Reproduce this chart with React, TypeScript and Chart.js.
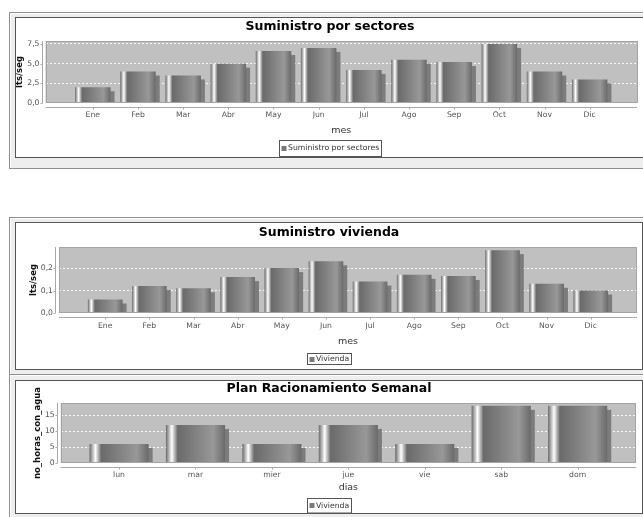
import { useEffect, useRef } from 'react';
import { Chart, registerables } from 'chart.js';

Chart.register(...registerables);

const FONT = "'DejaVu Sans', 'Liberation Sans', sans-serif";

// ---------- data ----------
const monthLabels = ['Ene', 'Feb', 'Mar', 'Abr', 'May', 'Jun', 'Jul', 'Ago', 'Sep', 'Oct', 'Nov', 'Dic'];
const sectoresValues = [2.0, 4.0, 3.5, 5.0, 6.6, 7.0, 4.2, 5.5, 5.2, 7.5, 4.0, 3.0];
const viviendaValues = [0.06, 0.12, 0.11, 0.16, 0.2, 0.23, 0.14, 0.17, 0.165, 0.28, 0.13, 0.1];
const dayLabels = ['lun', 'mar', 'mier', 'jue', 'vie', 'sab', 'dom'];
const horasValues = [6, 12, 6, 12, 6, 18, 18];

const sectoresTicks = [0, 2.5, 5, 7.5];
const sectoresTickLabels = ['0,0', '2,5', '5,0', '7,5'];
const viviendaTicks = [0, 0.1, 0.2];
const viviendaTickLabels = ['0,0', '0,1', '0,2'];
const horasTicks = [0, 5, 10, 15];
const horasTickLabels = ['0', '5', '10', '15'];

// ---------- styles ----------
const BAR_DARK = '#6a6a6a';
const BAR_LIGHT = '#989898';
const SHADOW = '#7c7c7c';
const PLOT_BG = '#c0c0c0';

type PanelSpec = {
  title: string;
  yTitle: string;
  xTitle: string;
  legendLabel: string;
  categories: string[];
  values: number[];
  yTicks: number[];
  yTickLabels: string[];
  canvasW: number;
  canvasH: number;
  yWidth: number;
  rightWidth: number;
  xHeight: number;
  titlePadTop: number;
  titlePadBottom: number;
  xTickPad: number;
  xTitlePadBottom: number;
  yTitlePad: number;
  legendTop: number;
  legendH: number;
};

const panel1: PanelSpec = {
  title: 'Suministro por sectores',
  yTitle: 'lts/seg',
  xTitle: 'mes',
  legendLabel: 'Suministro por sectores',
  categories: monthLabels,
  values: sectoresValues,
  yTicks: sectoresTicks,
  yTickLabels: sectoresTickLabels,
  canvasW: 628,
  canvasH: 139,
  yWidth: 29.5,
  rightWidth: 7,
  xHeight: 54,
  titlePadTop: 1.5,
  titlePadBottom: 6.5,
  xTickPad: 7.6,
  xTitlePadBottom: 20.3,
  yTitlePad: 0,
  legendTop: 122,
  legendH: 16,
};

const panel2: PanelSpec = {
  title: 'Suministro vivienda',
  yTitle: 'lts/seg',
  xTitle: 'mes',
  legendLabel: 'Vivienda',
  categories: monthLabels,
  values: viviendaValues,
  yTicks: viviendaTicks,
  yTickLabels: viviendaTickLabels,
  canvasW: 626,
  canvasH: 146,
  yWidth: 43,
  rightWidth: 5,
  xHeight: 56,
  titlePadTop: 2.5,
  titlePadBottom: 6.5,
  xTickPad: 8.4,
  xTitlePadBottom: 21.3,
  yTitlePad: 13.25,
  legendTop: 130,
  legendH: 11,
};

const panel3: PanelSpec = {
  title: 'Plan Racionamiento Semanal',
  yTitle: 'no_horas_con_agua',
  xTitle: 'dias',
  legendLabel: 'Vivienda',
  categories: dayLabels,
  values: horasValues,
  yTicks: horasTicks,
  yTickLabels: horasTickLabels,
  canvasW: 626,
  canvasH: 132,
  yWidth: 44.7,
  rightWidth: 6,
  xHeight: 50,
  titlePadTop: 0,
  titlePadBottom: 7,
  xTickPad: 7.2,
  xTitlePadBottom: 19.3,
  yTitlePad: 17.25,
  legendTop: 117,
  legendH: 14.5,
};

// JFreeChart-like category layout (5% margins, 20% item gap)
function categoryGeometry(n: number) {
  const catW = (0.9 * 0.8) / n;
  const gap = (0.9 * 0.2) / (n - 1);
  const spacing = catW + gap;
  return { barFrac: catW / spacing, offset: (0.05 + catW / 2) / spacing };
}

function makePlugin(spec: PanelSpec) {
  return {
    id: 'jfreeLook',
    beforeDraw(chart: any) {
      const { ctx, chartArea: a } = chart;
      ctx.save();
      ctx.fillStyle = PLOT_BG;
      ctx.fillRect(a.left, a.top, a.right - a.left, a.bottom - a.top);
      ctx.restore();
    },
    beforeDatasetsDraw(chart: any) {
      const { ctx, chartArea: a } = chart;
      const meta = chart.getDatasetMeta(0);
      ctx.save();
      ctx.beginPath();
      ctx.rect(a.left, a.top, a.right - a.left, a.bottom - a.top);
      ctx.clip();
      ctx.fillStyle = SHADOW;
      meta.data.forEach((el: any) => {
        const { x, y, base, width } = el.getProps(['x', 'y', 'base', 'width'], true);
        ctx.fillRect(x - width / 2 + 4, y + 4, width, base - y - 4);
      });
      ctx.restore();
    },
    afterDatasetsDraw(chart: any) {
      const { ctx, chartArea: a } = chart;
      ctx.save();
      ctx.strokeStyle = '#a4a4a4';
      ctx.lineWidth = 1;
      ctx.strokeRect(
        Math.round(a.left) + 0.5,
        Math.round(a.top) + 0.5,
        Math.round(a.right - a.left) - 1,
        Math.round(a.bottom - a.top) - 1
      );
      ctx.restore();
    },
    afterDraw(chart: any) {
      const { ctx, chartArea: a } = chart;
      const xs = chart.scales.x;
      const ys = chart.scales.y;
      ctx.save();
      ctx.strokeStyle = '#a8a8a8';
      ctx.lineWidth = 1;
      // x axis line + ticks
      const axY = Math.round(a.bottom) + 4.5;
      ctx.beginPath();
      ctx.moveTo(a.left, axY);
      ctx.lineTo(a.right, axY);
      spec.categories.forEach((_, i) => {
        const px = Math.round(xs.getPixelForValue(i)) + 0.5;
        ctx.moveTo(px, axY);
        ctx.lineTo(px, axY + 2);
      });
      // y axis line + ticks
      const axX = Math.round(a.left) - 3.5;
      ctx.moveTo(axX, a.top);
      ctx.lineTo(axX, a.bottom);
      spec.yTicks.forEach((v) => {
        const py = Math.round(ys.getPixelForValue(v)) + 0.5;
        ctx.moveTo(axX, py);
        ctx.lineTo(axX - 2, py);
      });
      ctx.stroke();

      // legend with frame
      const label = chart.data.datasets[0].label as string;
      ctx.font = `7.7px ${FONT}`;
      const tw = ctx.measureText(label).width;
      const sw = 5;
      const boxW = Math.round(2 + sw + 1.5 + tw + 2.5);
      const left = Math.round(chart.width / 2 - boxW / 2) + 0.5;
      const top = spec.legendTop + 0.5;
      ctx.fillStyle = '#ffffff';
      ctx.fillRect(left, top, boxW, spec.legendH);
      ctx.strokeStyle = '#555555';
      ctx.strokeRect(left, top, boxW, spec.legendH);
      const cy = top + spec.legendH / 2;
      ctx.fillStyle = '#7a7a7a';
      ctx.fillRect(left + 2, Math.round(cy - 2.5), sw, 5);
      ctx.fillStyle = '#333333';
      ctx.textBaseline = 'middle';
      ctx.textAlign = 'left';
      ctx.fillText(label, left + 2 + sw + 1.5, cy);
      ctx.restore();
    },
  };
}

function buildConfig(spec: PanelSpec): any {
  const n = spec.categories.length;
  const { barFrac, offset } = categoryGeometry(n);
  const yMax = Math.max(...spec.values) * 1.05;
  return {
    type: 'bar',
    data: {
      datasets: [
        {
          label: spec.legendLabel,
          data: spec.values.map((v, i) => ({ x: i, y: v })),
          borderWidth: 0,
          categoryPercentage: 1,
          barPercentage: barFrac,
          backgroundColor: (c: any) => {
            const chart = c.chart;
            const xs = chart.scales && chart.scales.x;
            if (!xs || c.type !== 'data') return BAR_DARK;
            const cx = xs.getPixelForValue(c.dataIndex);
            const spacing = xs.getPixelForValue(1) - xs.getPixelForValue(0);
            const w = spacing * barFrac;
            const x0 = cx - w / 2;
            if (!isFinite(x0) || !isFinite(w) || w <= 0) return BAR_DARK;
            const g = chart.ctx.createLinearGradient(x0, 0, x0 + w, 0);
            g.addColorStop(0, BAR_DARK);
            g.addColorStop(0.1, '#ffffff');
            g.addColorStop(0.2, BAR_DARK);
            g.addColorStop(0.8, BAR_LIGHT);
            g.addColorStop(1, BAR_DARK);
            return g;
          },
        },
      ],
    },
    options: {
      animation: false,
      responsive: false,
      maintainAspectRatio: false,
      layout: { padding: 0 },
      plugins: {
        legend: { display: false },
        tooltip: { enabled: false },
        title: {
          display: true,
          text: spec.title,
          color: '#000000',
          font: { family: FONT, size: 12.5, weight: 'bold', lineHeight: 1.2 },
          padding: { top: spec.titlePadTop, bottom: spec.titlePadBottom },
        },
      },
      scales: {
        x: {
          type: 'linear',
          position: 'bottom',
          min: -offset,
          max: n - 1 + offset,
          offset: false,
          grid: { display: false, drawTicks: false, offset: false },
          border: { display: false },
          afterBuildTicks: (s: any) => {
            s.ticks = spec.categories.map((_, i) => ({ value: i }));
          },
          afterFit: (s: any) => {
            s.height = spec.xHeight;
          },
          ticks: {
            autoSkip: false,
            maxRotation: 0,
            minRotation: 0,
            padding: spec.xTickPad,
            color: '#555555',
            font: { family: FONT, size: 7.7 },
            callback: (v: any) => spec.categories[v] ?? '',
          },
          title: {
            display: true,
            text: spec.xTitle,
            color: '#333333',
            font: { family: FONT, size: 9.5 },
            padding: { top: 0, bottom: spec.xTitlePadBottom },
          },
        },
        y: {
          type: 'linear',
          position: 'left',
          min: 0,
          max: yMax,
          grid: { color: 'rgba(255,255,255,0.9)', lineWidth: 1, drawTicks: false },
          border: { display: false, dash: [2, 2] },
          afterBuildTicks: (s: any) => {
            s.ticks = spec.yTicks.map((v) => ({ value: v }));
          },
          afterFit: (s: any) => {
            s.width = spec.yWidth;
          },
          ticks: {
            padding: 6,
            color: '#555555',
            font: { family: FONT, size: 7.7 },
            callback: (_v: any, i: number) => spec.yTickLabels[i] ?? '',
          },
          title: {
            display: true,
            text: spec.yTitle,
            color: '#111111',
            font: { family: FONT, size: 8.5, weight: 'bold', lineHeight: 1 },
            padding: { top: spec.yTitlePad, bottom: 0 },
          },
        },
        yRight: {
          type: 'linear',
          axis: 'y',
          position: 'right',
          display: true,
          grid: { display: false, drawTicks: false },
          border: { display: false },
          ticks: { display: false },
          afterFit: (s: any) => {
            s.width = spec.rightWidth;
          },
        },
      },
    },
    plugins: [makePlugin(spec)],
  };
}

function ChartPanel({ spec, left, top, width, height }: { spec: PanelSpec; left: number; top: number; width: number; height: number }) {
  const ref = useRef<HTMLCanvasElement>(null);
  useEffect(() => {
    if (!ref.current) return;
    const chart = new Chart(ref.current, buildConfig(spec));
    return () => chart.destroy();
  }, [spec]);
  return (
    <div
      style={{
        position: 'absolute',
        left,
        top,
        width,
        height,
        boxSizing: 'border-box',
        border: '1px solid #555555',
        background: '#ffffff',
      }}
    >
      <canvas
        ref={ref}
        width={spec.canvasW}
        height={spec.canvasH}
        style={{ display: 'block', width: spec.canvasW, height: spec.canvasH }}
      />
    </div>
  );
}

const frame = {
  position: 'absolute' as const,
  boxSizing: 'border-box' as const,
  background: '#eeeeee',
  border: '1px solid #8f8f8f',
  boxShadow: 'inset 1px 1px 0 #ffffff',
};

export default function App() {
  return (
    <div
      style={{
        position: 'fixed',
        left: 0,
        top: 0,
        width: 643,
        height: 517,
        overflow: 'hidden',
        background: '#ffffff',
      }}
    >
      <div style={{ ...frame, left: 9, top: 12, width: 660, height: 157 }} />
      <div style={{ ...frame, left: 9, top: 217, width: 660, height: 158 }} />
      <div style={{ ...frame, left: 9, top: 374, width: 660, height: 170 }} />
      <ChartPanel spec={panel1} left={15} top={17} width={630} height={141} />
      <ChartPanel spec={panel2} left={15} top={222} width={628} height={148} />
      <ChartPanel spec={panel3} left={15} top={380} width={628} height={134} />
    </div>
  );
}
